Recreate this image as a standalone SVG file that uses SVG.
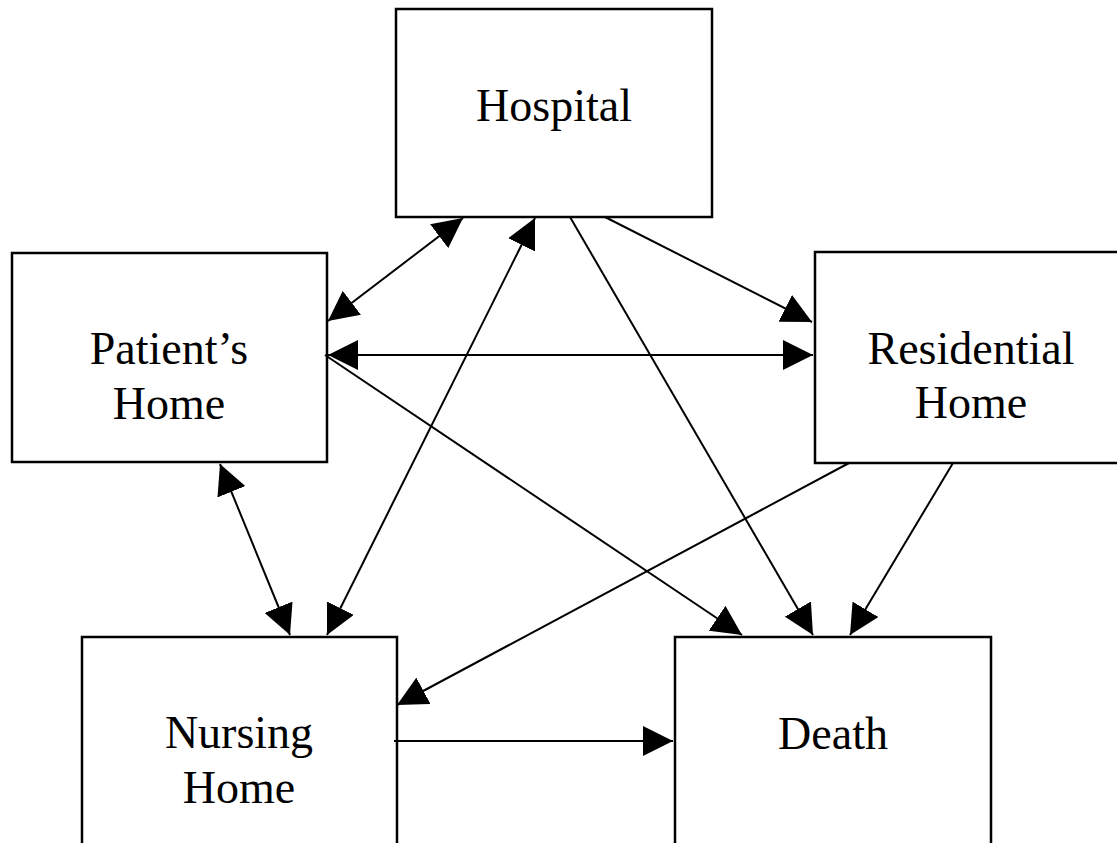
<svg xmlns="http://www.w3.org/2000/svg" width="1117" height="843" viewBox="0 0 1117 843">
<style>
.box{fill:#fff;stroke:#000;stroke-width:2.5}
.lbl{font-family:"Liberation Serif","Times New Roman",serif;font-size:46px;fill:#000;text-anchor:middle}
.c{stroke:#000;stroke-width:2;fill:none}
.one{marker-end:url(#ah)}
.two{marker-start:url(#ah);marker-end:url(#ah)}
</style>
<defs>
<marker id="ah" markerUnits="userSpaceOnUse" markerWidth="30" markerHeight="30" refX="30" refY="15" orient="auto-start-reverse" viewBox="0 0 30 30">
<path d="M0,0 L30,15 L0,30 z" fill="#000"/>
</marker>
</defs>
<rect width="1117" height="843" fill="#fff"/>
<g id="hospital"><rect class="box" x="396" y="9" width="316" height="208"/><text class="lbl" x="554" y="121">Hospital</text></g>
<g id="patients-home"><rect class="box" x="12" y="253" width="315" height="209"/><text class="lbl" x="169" y="364">Patient’s</text><text class="lbl" x="169" y="419">Home</text></g>
<g id="residential-home"><rect class="box" x="815" y="252" width="314" height="211"/><text class="lbl" x="971" y="364">Residential</text><text class="lbl" x="971" y="418">Home</text></g>
<g id="nursing-home"><rect class="box" x="82" y="637" width="315" height="212"/><text class="lbl" x="239" y="748">Nursing</text><text class="lbl" x="239" y="803">Home</text></g>
<g id="death"><rect class="box" x="675" y="637" width="316" height="212"/><text class="lbl" x="833" y="749">Death</text></g>
<g id="connectors">
<line class="c two" x1="328" y1="321" x2="463" y2="218"/>
<line class="c two" x1="327" y1="635" x2="535" y2="218"/>
<line class="c two" x1="220" y1="464" x2="290" y2="635"/>
<line class="c two" x1="328" y1="355" x2="813" y2="355"/>
<line class="c one" x1="325" y1="355" x2="742" y2="635"/>
<line class="c one" x1="605" y1="217" x2="812" y2="322"/>
<line class="c one" x1="570" y1="217" x2="813" y2="635"/>
<line class="c one" x1="953" y1="463" x2="850" y2="635"/>
<line class="c one" x1="849" y1="463" x2="397" y2="705"/>
<line class="c one" x1="394" y1="741" x2="673" y2="741"/>
</g>
</svg>
